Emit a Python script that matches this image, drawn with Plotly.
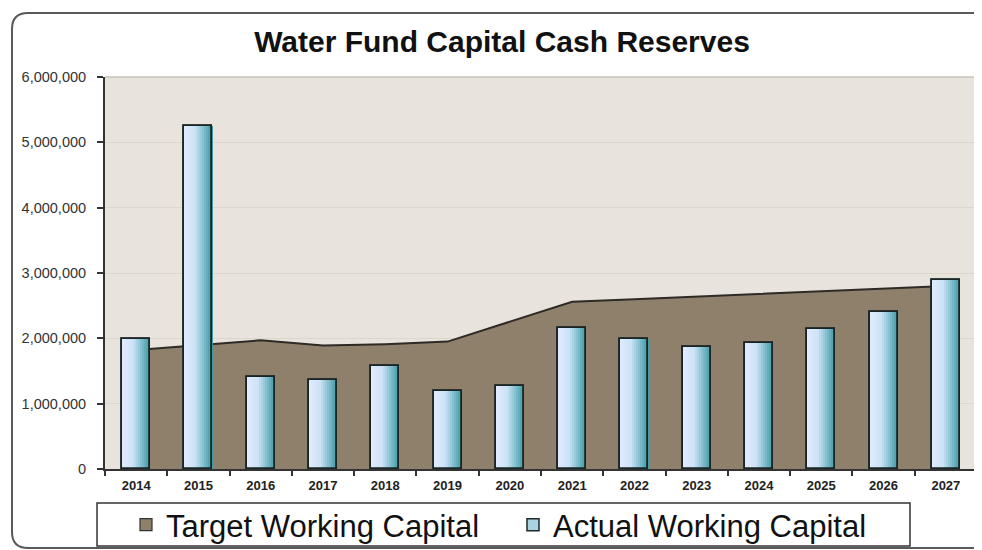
import plotly.graph_objects as go

# ---- data ----
years = ["2014", "2015", "2016", "2017", "2018", "2019", "2020",
         "2021", "2022", "2023", "2024", "2025", "2026", "2027"]
target_working_capital = [1820000, 1890000, 1970000, 1890000, 1910000, 1950000, 2250000,
                          2560000, 2600000, 2640000, 2680000, 2720000, 2760000, 2800000]
actual_working_capital = [1990000, 5250000, 1410000, 1360000, 1580000, 1200000, 1270000,
                          2160000, 1990000, 1870000, 1930000, 2140000, 2400000, 2890000]
y_ticks = [0, 1000000, 2000000, 3000000, 4000000, 5000000, 6000000]

TITLE = "Water Fund Capital Cash Reserves"
OFF = 8  # default body margin of the html page
W, H = 982 - OFF, 550 - OFF
ML, MT = 105 - OFF, 77 - OFF
MR = W - (977 - OFF)
MB = H - (469 - OFF)
PW, PH = W - ML - MR, H - MT - MB


def px(x):  # reference-pixel x -> paper
    return (x - OFF - ML) / PW


def py(y):  # reference-pixel y -> paper
    return 1 - (y - OFF - MT) / PH


BAR_W = 0.45
N_STRIPS = 14
stops = [(0.0, (226, 235, 255)), (0.4, (204, 226, 246)), (0.72, (125, 188, 203)), (1.0, (58, 150, 158))]


def grad(t):
    for (t0, c0), (t1, c1) in zip(stops[:-1], stops[1:]):
        if t <= t1:
            f = (t - t0) / (t1 - t0)
            return "rgb(%d,%d,%d)" % tuple(round(a + (b - a) * f) for a, b in zip(c0, c1))
    return "rgb(%d,%d,%d)" % stops[-1][1]


AREA_COLOR = "#8f806c"
fig = go.Figure()

# Target area on main axes (drawn below the bars)
fig.add_trace(go.Scatter(
    x=years, y=target_working_capital, name="Target Working Capital",
    mode="lines", fill="tozeroy", fillcolor=AREA_COLOR, showlegend=False,
    line=dict(color="#2e2a26", width=2), xaxis="x", yaxis="y",
))
# legend key for the area (square swatch)
fig.add_trace(go.Bar(
    x=[None], y=[None], name="Target Working Capital",
    marker=dict(color=AREA_COLOR, line=dict(color="#333333", width=1.2)),
    xaxis="x", yaxis="y",
))

# Actual bars on overlay axes (drawn above area)
fig.add_trace(go.Bar(
    x=years, y=actual_working_capital, name="Actual Working Capital",
    width=BAR_W, offset=-BAR_W / 2,
    marker=dict(color="#a9d3e2", line=dict(color="#1e2b2b", width=1.5)),
    xaxis="x2", yaxis="y2",
))
sw = BAR_W / N_STRIPS
for i in range(N_STRIPS):
    fig.add_trace(go.Bar(
        x=years, y=actual_working_capital, showlegend=False, hoverinfo="skip",
        width=sw * 1.08, offset=-BAR_W / 2 + i * sw,
        marker=dict(color=grad((i + 0.5) / N_STRIPS), line=dict(width=0)),
        xaxis="x2", yaxis="y2",
    ))
fig.add_trace(go.Bar(
    x=years, y=actual_working_capital, showlegend=False, hoverinfo="skip",
    width=BAR_W, offset=-BAR_W / 2,
    marker=dict(color="rgba(0,0,0,0)", line=dict(color="#1a2626", width=1.8)),
    xaxis="x2", yaxis="y2",
))

r = 16
x0, y0 = px(12), py(13)
x1, y1 = px(1000), py(548)
rx, ry = r / PW, r / PH
border_path = (f"M {x0},{y1 + ry} L {x0},{y0 - ry} Q {x0},{y0} {x0 + rx},{y0} "
               f"L {x1 - rx},{y0} Q {x1},{y0} {x1},{y0 - ry} L {x1},{y1 + ry} "
               f"Q {x1},{y1} {x1 - rx},{y1} L {x0 + rx},{y1} Q {x0},{y1} {x0},{y1 + ry} Z")

shapes = [
    dict(type="path", xref="paper", yref="paper", path=border_path,
         line=dict(color="#5a5a5a", width=2), fillcolor="rgba(0,0,0,0)", layer="below"),
    dict(type="rect", xref="paper", yref="paper", x0=px(97), x1=px(910), y0=py(546), y1=py(503),
         line=dict(color="#333333", width=1.5), fillcolor="white", layer="below"),
    dict(type="line", xref="paper", yref="paper", x0=0, x1=1, y0=1, y1=1,
         line=dict(color="#c9c4bd", width=1.5)),
    dict(type="line", xref="paper", yref="paper", x0=1, x1=1, y0=0, y1=1,
         line=dict(color="#c9c4bd", width=1.5)),
]

fig.update_layout(
    width=W, height=H,
    margin=dict(l=ML, r=MR, t=MT, b=MB, autoexpand=False),
    paper_bgcolor="white", plot_bgcolor="#e8e3dc",
    font=dict(family="Liberation Sans, Arial, sans-serif", color="#333333"),
    title=dict(text=TITLE, x=px(502), xref="paper", xanchor="center",
               y=1 - (41 - OFF) / H, yref="container", yanchor="middle",
               font=dict(size=30, color="#111111", family="Liberation Sans, Arial, sans-serif", weight="bold")),
    barmode="overlay",
    bargap=0,
    showlegend=True,
    legend=dict(orientation="h", x=px(126), xanchor="left", y=py(525), yanchor="middle",
                bgcolor="rgba(0,0,0,0)", borderwidth=0, entrywidth=342,
                font=dict(size=31, color="#111111"), traceorder="normal"),
    xaxis=dict(type="category", categoryorder="array", categoryarray=years,
               range=[-0.5, len(years) - 0.5], tickson="boundaries",
               ticks="outside", ticklen=5, tickwidth=1.5, tickcolor="#333333",
               showline=True, linecolor="#333333", linewidth=2, showgrid=False,
               tickfont=dict(size=13, color="#222222", weight="bold"), ticklabelstandoff=3),
    yaxis=dict(range=[0, 6000000], tickvals=y_ticks, tickformat=",d",
               ticks="outside", ticklen=6, tickwidth=1.5, tickcolor="#333333",
               showline=True, linecolor="#333333", linewidth=2,
               showgrid=True, gridcolor="#dcd6cd", gridwidth=1, zeroline=False,
               tickfont=dict(size=14.5, color="#333333"), ticklabelstandoff=8),
    xaxis2=dict(type="category", categoryorder="array", categoryarray=years,
                range=[-0.5, len(years) - 0.5], overlaying="x", visible=False),
    yaxis2=dict(range=[0, 6000000], overlaying="y", visible=False),
    shapes=shapes,
)

fig.write_html("out.html")
